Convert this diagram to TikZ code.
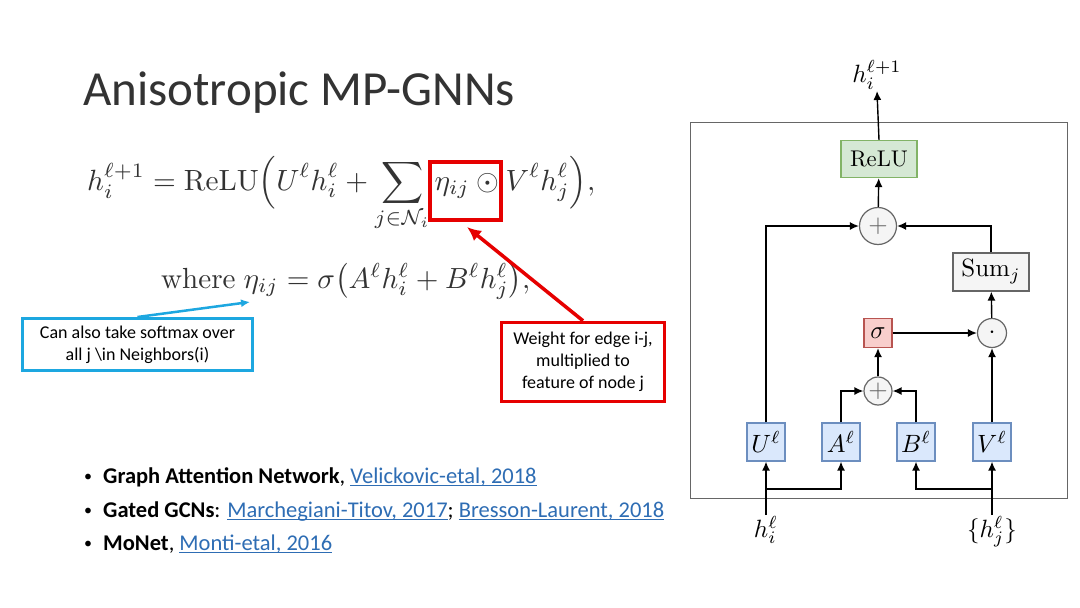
\documentclass[tikz,border=0pt]{standalone}
\usepackage[no-math]{fontspec}
\usepackage{amsmath,amssymb,graphicx}
\newfontfamily\carlito{Carlito}
\usetikzlibrary{arrows.meta,calc}
\definecolor{linkc}{HTML}{2E6DB4}
\definecolor{cyanc}{HTML}{1DA7E0}
\definecolor{redc}{HTML}{E60000}
\definecolor{bfill}{HTML}{DAE8FC}\definecolor{bdraw}{HTML}{6C8EBF}
\definecolor{gfill}{HTML}{D5E8D4}\definecolor{gdraw}{HTML}{82B366}
\definecolor{rfill}{HTML}{F8CECC}\definecolor{rdraw}{HTML}{B85450}
\definecolor{sfill}{HTML}{F5F5F5}\definecolor{sdraw}{HTML}{666666}
\newsavebox\lnkbox
\newcommand{\lnk}[1]{{\sbox\lnkbox{\color{linkc}#1}\color{linkc}\rlap{\rule[-2.6pt]{\wd\lnkbox}{1.1pt}}\usebox\lnkbox}}
\newcommand{\dg}[1]{\scalebox{2.27}{#1}}
\newcommand{\dm}[1]{\scalebox{2.5}{#1}}
\tikzset{
  arr/.style={line width=1.4pt,-{Latex[length=9pt,width=8pt]}},
  plainbox/.style={line width=1.2pt,inner sep=0pt},
  bluebox/.style={plainbox,draw=bdraw,fill=bfill,minimum width=38pt,minimum height=38pt},
  greenbox/.style={plainbox,draw=gdraw,fill=gfill,minimum width=76pt,minimum height=37pt},
  graybox/.style={plainbox,draw=sdraw,fill=sfill,minimum width=76pt,minimum height=38pt},
  redbox/.style={plainbox,draw=rdraw,fill=rfill,minimum width=28pt,minimum height=29pt},
  opcirc/.style={circle,draw=sdraw,fill=sfill,line width=1.2pt,inner sep=0pt,text=sdraw},
  lbl/.style={inner sep=1pt},
  callout/.style={align=center,inner sep=0pt,font=\carlito\fontsize{18}{22}\selectfont},
  bul/.style={anchor=base west,inner sep=0pt,font=\carlito\fontsize{22.5}{26}\selectfont},
  dotb/.style={bul,font=\carlito\fontsize{16}{20}\selectfont},
}
\begin{document}
\begin{tikzpicture}[x=1pt,y=-1pt]
\useasboundingbox[fill=white] (0,0) rectangle (1080,608);
% title
\node[anchor=base west,inner sep=0pt,font=\carlito\fontsize{49}{58}\selectfont,text=black!80] (title) at (83,105) {Anisotropic MP-GNNs};
% formulas
\node[anchor=base west,inner sep=0pt,text=black!80] (f1) at (87,190)
  {\resizebox{508pt}{!}{$\displaystyle h_i^{\ell+1} = \mathrm{ReLU}\Big(U^\ell h_i^\ell + \sum_{j\in\mathcal{N}_i} \eta_{ij}\odot V^\ell h_j^\ell\Big),$}};
\node[anchor=base west,inner sep=0pt,text=black!80] (f2) at (161,288)
  {\resizebox{369pt}{!}{$\text{where}\;\eta_{ij} = \sigma\big(A^\ell h_i^\ell + B^\ell h_j^\ell\big),$}};
\node[draw=redc,line width=4pt,minimum width=71pt,minimum height=58pt,inner sep=0pt] (etabox) at (465.5,191) {};
% callouts
\node[callout,draw=cyanc,line width=3pt,minimum width=230pt,minimum height=52pt] (bcall) at (137.5,344.5)
  {Can also take softmax over\\all j \textbackslash in Neighbors(i)};
\coordinate (etaw) at (250,302);
\draw[cyanc,line width=2.5pt,-{Latex[length=9pt,width=8pt]}] (bcall.north) -- (etaw);
\node[callout,draw=redc,line width=3.5pt,minimum width=163pt,minimum height=79pt] (wcall) at (583,362)
  {Weight for edge i-j,\\multiplied to\\feature of node j};
\coordinate (etatip) at (467,227);
\draw[redc,line width=3.5pt,-{Latex[length=14pt,width=13pt]}] (wcall.north) -- (etatip);
% bullets
\node[dotb] (d1) at (84,481) {•};
\node[bul] (b1) at (103,483) {\textbf{Graph Attention Network}, \lnk{Velickovic-etal, 2018}};
\node[dotb] (d2) at (84,515) {•};
\node[bul] (b2) at (103,517) {\textbf{Gated GCNs}: \lnk{Marchegiani-Titov, 2017}; \lnk{Bresson-Laurent, 2018}};
\node[dotb] (d3) at (84,548) {•};
\node[bul] (b3) at (103,550) {\textbf{MoNet}, \lnk{Monti-etal, 2016}};
% diagram
\draw[sdraw,line width=1pt] (690,122) rectangle (1067,498);
\node[greenbox] (relu) at (879,159) {\dg{ReLU}};
\node[lbl,anchor=south] (out) at (877,91) {\dm{$h_i^{\ell+1}$}};
\node[opcirc,minimum size=37pt] (p1) at (878,226) {\dm{$+$}};
\node[graybox] (sum) at (991,272) {\dm{$\mathrm{Sum}_j$}};
\node[redbox] (sig) at (878,333) {\dm{$\sigma$}};
\node[opcirc,minimum size=29pt,text=black] (dot) at (992,333) {\dm{$\cdot$}};
\node[opcirc,minimum size=28pt] (p2) at (878,391) {\dm{$+$}};
\node[bluebox] (U) at (766,442) {\dm{$U^\ell$}};
\node[bluebox] (A) at (841,442) {\dm{$A^\ell$}};
\node[bluebox] (B) at (916,442) {\dm{$B^\ell$}};
\node[bluebox] (V) at (992,442) {\dm{$V^\ell$}};
\node[lbl,anchor=north] (hi) at (766,515) {\dm{$h_i^\ell$}};
\node[lbl,anchor=north] (hj) at (992,515) {\dm{$\{h_j^\ell\}$}};
\draw[arr] (relu.north) -- (out.south);
\draw[arr] (p1) -- (relu);
\draw[arr] (U.north) |- (p1.west);
\draw[arr] (sum.north) |- (p1.east);
\draw[arr] (dot) -- (sum);
\draw[arr] (sig) -- (dot);
\draw[arr] (p2) -- (sig);
\draw[arr] (A.north) |- (p2.west);
\draw[arr] (B.north) |- (p2.east);
\draw[arr] (V) -- (dot);
\draw[arr] (hi.north) -- (U.south);
\draw[arr] (hj.north) -- (V.south);
\coordinate (bi) at (766,489);
\coordinate (bj) at (992,489);
\draw[arr] (bi) -| (A.south);
\draw[arr] (bj) -| (B.south);
\end{tikzpicture}
\end{document}
